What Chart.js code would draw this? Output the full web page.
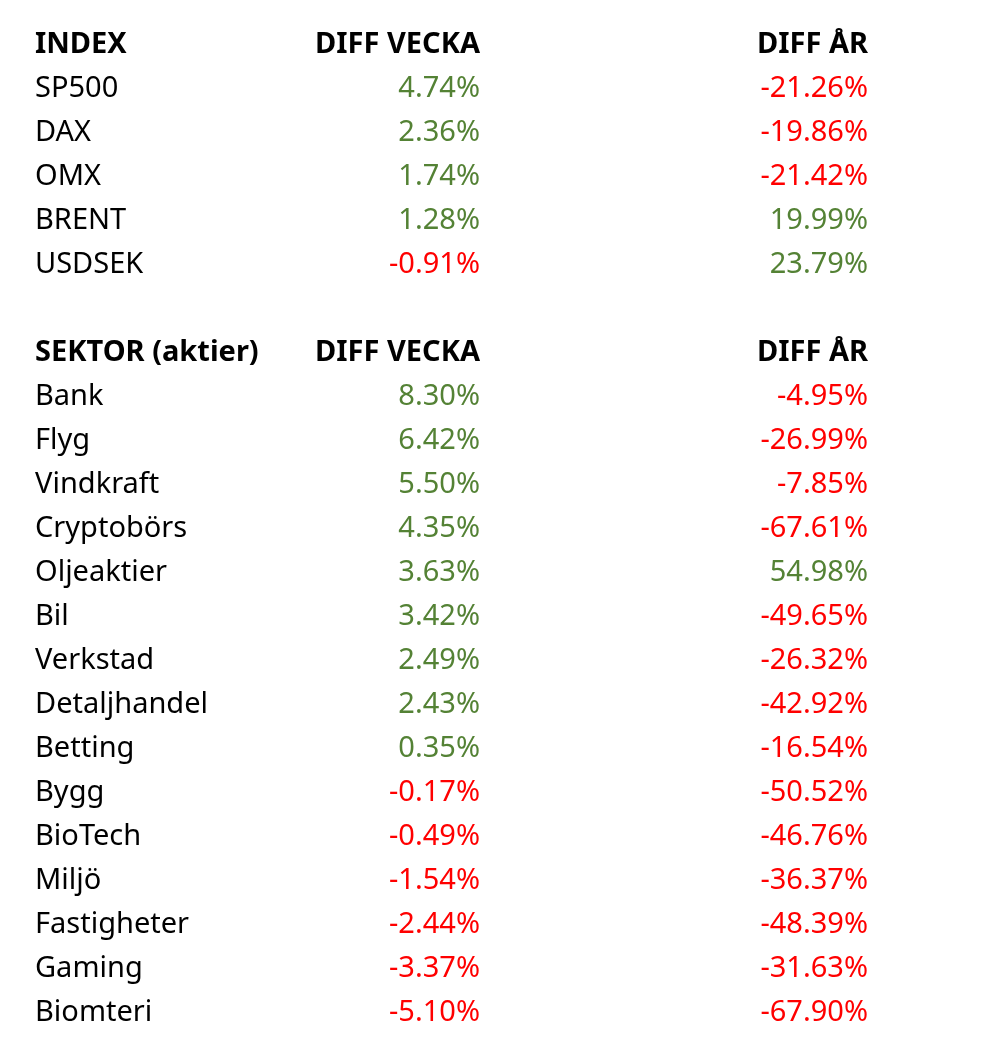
<!DOCTYPE html>
<html>
<head>
<meta charset="utf-8">
<script src="https://cdn.jsdelivr.net/npm/chart.js@4"></script>
<style>
  html, body { margin: 0; padding: 0; background: #ffffff; }
  #wrap { width: 983px; height: 1061px; }
</style>
</head>
<body>
<div id="wrap"><canvas id="tbl"></canvas></div>
<script>
// Table content
const indexNames = ["SP500", "DAX", "OMX", "BRENT", "USDSEK"];
const indexWeek = [4.74, 2.36, 1.74, 1.28, -0.91];
const indexYear = [-21.26, -19.86, -21.42, 19.99, 23.79];

const sectorNames = ["Bank", "Flyg", "Vindkraft", "Cryptobörs", "Oljeaktier", "Bil", "Verkstad",
    "Detaljhandel", "Betting", "Bygg", "BioTech", "Miljö", "Fastigheter", "Gaming", "Biomteri"];
const sectorWeek = [8.30, 6.42, 5.50, 4.35, 3.63, 3.42, 2.49, 2.43, 0.35, -0.17, -0.49, -1.54, -2.44, -3.37, -5.10];
const sectorYear = [-4.95, -26.99, -7.85, -67.61, 54.98, -49.65, -26.32, -42.92, -16.54, -50.52, -46.76, -36.37, -48.39, -31.63, -67.90];

const indexHeader = ["INDEX", "DIFF VECKA", "DIFF ÅR"];
const sectorHeader = ["SEKTOR (aktier)", "DIFF VECKA", "DIFF ÅR"];

// Column anchors (x scale units = pixels) and alignment
const colX = [35, 480, 868];
const colAlign = ["left", "right", "right"];

const GREEN = "#548235";
const RED = "#ff0000";
const FONT = "'Noto Sans', 'Open Sans', sans-serif";
const FONT_SIZE = 29;

// Build rows: each row gets a unique key on the category y axis
var rows = [];
rows.push({ key: "h1", cells: indexHeader, bold: true });
indexNames.forEach((n, i) => rows.push({ key: "i" + i, cells: [n, indexWeek[i], indexYear[i]] }));
rows.push({ key: "gap", cells: ["", "", ""] });
rows.push({ key: "h2", cells: sectorHeader, bold: true });
sectorNames.forEach((n, i) => rows.push({ key: "s" + i, cells: [n, sectorWeek[i], sectorYear[i]] }));

function fmt(v) {
    return typeof v === "number" ? v.toFixed(2) + "%" : v;
}

// One scatter dataset per column, points invisible; the plugin writes text at them
var datasets = [0, 1, 2].map((c) => ({
    label: "col" + c,
    data: rows.map((r) => ({ x: colX[c], y: r.key, text: r.cells[c], bold: !!r.bold })),
    pointRadius: 0,
    pointHoverRadius: 0
}));

const cellText = {
    id: "cellText",
    afterDatasetsDraw(chart) {
        const ctx = chart.ctx;
        ctx.save();
        chart.data.datasets.forEach((ds, c) => {
            chart.getDatasetMeta(c).data.forEach((pt, i) => {
                const d = ds.data[i];
                if (d.text === "" || d.text === undefined) return;
                ctx.font = (d.bold ? "bold " : "") + FONT_SIZE + "px " + FONT;
                ctx.textAlign = colAlign[c];
                ctx.textBaseline = "alphabetic";
                if (typeof d.text === "number") {
                    ctx.fillStyle = d.text < 0 ? RED : GREEN;
                } else {
                    ctx.fillStyle = "#000000";
                }
                ctx.fillText(fmt(d.text), pt.x, pt.y + 10.5);
            });
        });
        ctx.restore();
    }
};

new Chart(document.getElementById("tbl"), {
    type: "scatter",
    data: { datasets: datasets },
    options: {
        responsive: true,
        maintainAspectRatio: false,
        animation: false,
        events: [],
        layout: { padding: { left: 0, right: 0, top: 42, bottom: 51 } },
        plugins: { legend: { display: false }, tooltip: { enabled: false } },
        scales: {
            x: { type: "linear", min: 0, max: 983, display: false },
            y: { type: "category", labels: rows.map((r) => r.key), offset: false, display: false }
        }
    },
    plugins: [cellText]
});
</script>
</body>
</html>
